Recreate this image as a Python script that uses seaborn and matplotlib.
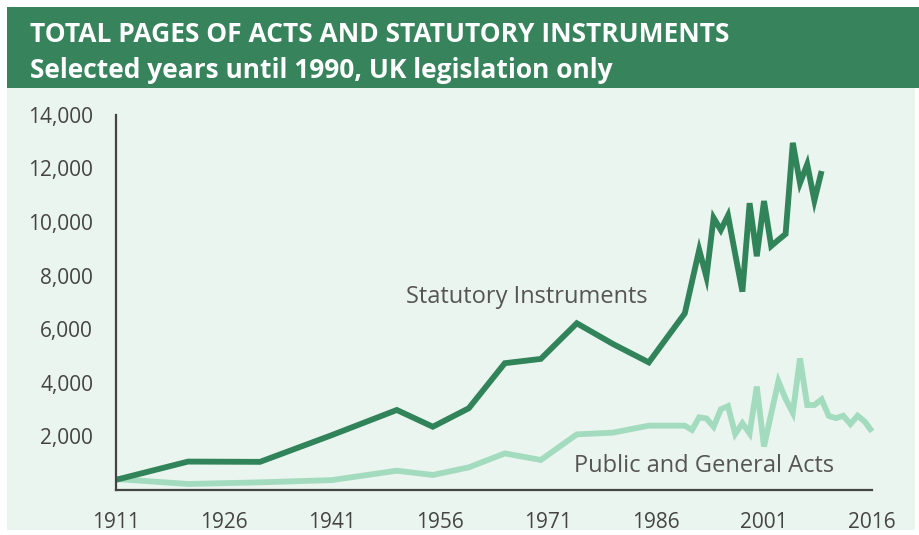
import matplotlib
matplotlib.use("Agg")
import matplotlib.pyplot as plt
import seaborn as sns
import pandas as pd
from matplotlib.patches import Rectangle

# ---- data ----
si_years = [1911, 1921, 1931, 1941, 1950, 1955, 1960, 1965, 1970, 1975, 1980, 1985,
            1990, 1992, 1993, 1994, 1995, 1996, 1997, 1998, 1999, 2000, 2001, 2002,
            2003, 2004, 2005, 2006, 2007, 2008, 2009]
si_pages = [380, 1060, 1050, 2050, 2985, 2360, 3050, 4730, 4890, 6220, 5450, 4760,
            6590, 8960, 7950, 10150, 9700, 10240, 8800, 7400, 10700, 8720, 10780, 9100,
            9330, 9550, 12950, 11450, 12150, 10800, 11900]

acts_years = [1911, 1921, 1931, 1941, 1950, 1955, 1960, 1965, 1970, 1975, 1980, 1985,
              1990, 1991, 1992, 1993, 1994, 1995, 1996, 1997, 1998, 1999, 2000, 2001,
              2002, 2003, 2004, 2005, 2006, 2007, 2008, 2009, 2010, 2011, 2012, 2013,
              2014, 2015, 2016]
acts_pages = [410, 225, 285, 370, 720, 560, 845, 1365, 1120, 2075, 2140, 2400,
              2400, 2240, 2710, 2670, 2360, 3010, 3130, 2090, 2490, 2110, 3860, 1620,
              2850, 4050, 3400, 2880, 4910, 3170, 3170, 3380, 2760, 2680, 2770, 2460,
              2770, 2550, 2180]

x_ticks = [1911, 1926, 1941, 1956, 1971, 1986, 2001, 2016]
y_ticks = [0, 2000, 4000, 6000, 8000, 10000, 12000, 14000]
y_tick_labels = ["", "2,000", "4,000", "6,000", "8,000", "10,000", "12,000", "14,000"]

series_names = ["Statutory Instruments", "Public and General Acts"]
title = "TOTAL PAGES OF ACTS AND STATUTORY INSTRUMENTS"
subtitle = "Selected years until 1990, UK legislation only"

df = pd.concat([
    pd.DataFrame({"year": si_years, "pages": si_pages, "series": series_names[0]}),
    pd.DataFrame({"year": acts_years, "pages": acts_pages, "series": series_names[1]}),
])

# ---- style ----
sns.set_theme(style="white")
plt.rcParams["font.family"] = ["Open Sans", "DejaVu Sans"]

HEADER = "#37845C"
PANEL = "#EBF5EF"
DARK = "#31845A"
LIGHT = "#A3DBBF"
TEXT = "#555555"
AXIS = "#444444"

W, H = 920, 535
fig = plt.figure(figsize=(W / 100, H / 100), dpi=100)
fig.patch.set_facecolor("white")

# panel and header backgrounds
fig.patches.append(Rectangle((7 / W, 1 - 530 / H), (915 - 7) / W, (530 - 88) / H,
                             transform=fig.transFigure, facecolor=PANEL,
                             edgecolor="none", zorder=-10))
fig.patches.append(Rectangle((7 / W, 1 - 88 / H), (920 - 7) / W, (88 - 7) / H,
                             transform=fig.transFigure, facecolor=HEADER,
                             edgecolor="none", zorder=-10))

fig.text(30 / W, 1 - 35 / H, title, color="white", fontsize=19,
         fontweight="bold", va="center", ha="left")
fig.text(30 / W, 1 - 71 / H, subtitle, color="white", fontsize=19,
         fontweight="bold", va="center", ha="left")

ax = fig.add_axes([116 / W, 1 - 490 / H, (872 - 116) / W, (490 - 114.7) / H])
ax.set_facecolor("none")
ax.set_zorder(5)

sns.lineplot(data=df, x="year", y="pages", hue="series",
             palette={series_names[0]: DARK, series_names[1]: LIGHT},
             hue_order=[series_names[1], series_names[0]],
             linewidth=4.2, ax=ax, legend=False, clip_on=False)
for ln in ax.lines:
    ln.set_solid_joinstyle("miter")
    ln.set_solid_capstyle("butt")

ax.set_xlim(1911, 2016)
ax.set_ylim(0, 14000)
ax.set_xticks(x_ticks)
ax.set_xticklabels([str(t) for t in x_ticks])
ax.set_yticks(y_ticks)
ax.set_yticklabels(y_tick_labels)
ax.set_xlabel("")
ax.set_ylabel("")

for s in ["top", "right"]:
    ax.spines[s].set_visible(False)
for s in ["left", "bottom"]:
    ax.spines[s].set_color(AXIS)
    ax.spines[s].set_linewidth(1.6)

ax.tick_params(axis="both", direction="out", length=5.5, width=1.6, color=AXIS,
               labelcolor="#444444", labelsize=15)
ax.tick_params(axis="y", pad=11)
ax.tick_params(axis="x", pad=10)

ax.text(1968.1, 7200, series_names[0], color=TEXT, fontsize=17,
        ha="center", va="center")
ax.text(1992.7, 880, series_names[1], color=TEXT, fontsize=17,
        ha="center", va="center")

fig.savefig("out.png", dpi=100, facecolor="white")
